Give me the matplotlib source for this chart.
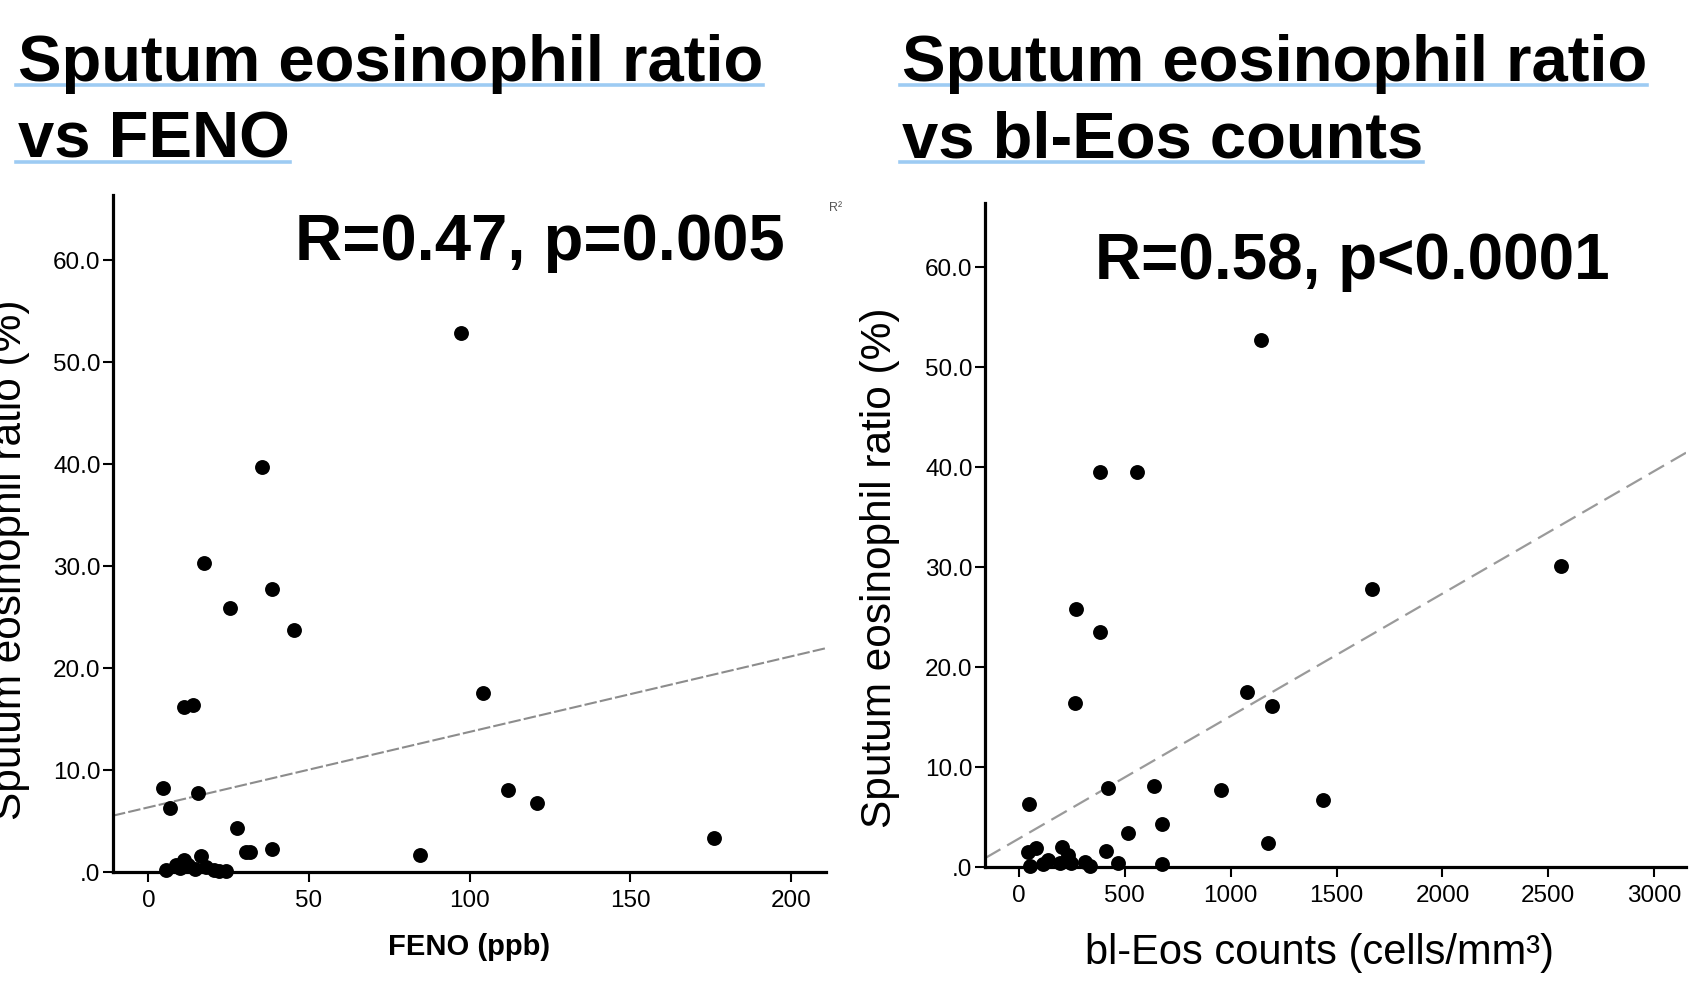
import matplotlib
matplotlib.use("Agg")
import matplotlib.pyplot as plt
from matplotlib.lines import Line2D

plt.rcParams['font.family'] = ['Liberation Sans', 'DejaVu Sans']

# Dados
feno = [97.2, 35.4, 17.4, 38.5, 25.5, 45.3, 104.1, 11.2, 14.0, 4.6, 15.6, 6.6,
        112.1, 121.1, 176.1, 27.6, 30.5, 31.8, 38.5, 84.5, 16.5, 11.2, 8.7, 5.6,
        12.4, 18.0, 20.6, 24.3, 22.0, 10.0, 14.5]
sputum_feno = [52.9, 39.7, 30.3, 27.8, 25.9, 23.7, 17.6, 16.2, 16.4, 8.2, 7.7, 6.3,
               8.0, 6.8, 3.3, 4.3, 2.0, 2.0, 2.3, 1.7, 1.6, 1.2, 0.7, 0.2,
               0.7, 0.5, 0.2, 0.1, 0.1, 0.4, 0.3]

bleos = [1145, 385, 556, 271, 385, 1668, 2562, 1079, 266, 1193, 48, 423, 637,
         955, 1435, 675, 513, 1174, 409, 43, 81, 204, 233, 138, 52, 195, 314,
         338, 470, 675, 114, 247]
sputum_bleos = [52.7, 39.5, 39.5, 25.8, 23.5, 27.8, 30.1, 17.5, 16.4, 16.1, 6.3, 7.9,
                8.1, 7.7, 6.7, 4.3, 3.4, 2.4, 1.6, 1.5, 1.9, 2.0, 1.2, 0.7, 0.1,
                0.4, 0.5, 0.1, 0.4, 0.3, 0.3, 0.4]

# Retas de ajuste (intercepto, inclinação)
fit_feno = (6.34, 0.074)
fit_bleos = (2.84, 0.01225)

y_ticks = [0, 10, 20, 30, 40, 50, 60]
y_tick_labels = [".0", "10.0", "20.0", "30.0", "40.0", "50.0", "60.0"]
x_ticks_feno = [0, 50, 100, 150, 200]
x_ticks_bleos = [0, 500, 1000, 1500, 2000, 2500, 3000]

titles_left = ["Sputum eosinophil ratio", "vs FENO"]
titles_right = ["Sputum eosinophil ratio", "vs bl-Eos counts"]

W, H = 1697, 988
fig = plt.figure(figsize=(W / 100, H / 100), dpi=100)

ax1 = fig.add_axes([113 / W, 1 - 872 / H, (826 - 113) / W, (872 - 195) / H])
ax2 = fig.add_axes([985 / W, 1 - 867 / H, (1686 - 985) / W, (867 - 203) / H])


def style_axis(ax, xlim, xticks):
    ax.set_xlim(*xlim)
    ax.set_ylim(0, 66.4)
    for side in ["top", "right"]:
        ax.spines[side].set_visible(False)
    for side in ["left", "bottom"]:
        ax.spines[side].set_linewidth(2.3)
        ax.spines[side].set_zorder(2)
    ax.set_yticks(y_ticks)
    ax.set_yticklabels(y_tick_labels)
    ax.set_xticks(xticks)
    ax.tick_params(axis="both", direction="out", length=7, width=1.5, labelsize=17.5)
    ax.tick_params(axis="y", pad=2)
    ax.tick_params(axis="x", pad=6)


# Gráfico da esquerda: FENO
style_axis(ax1, (-11, 211), x_ticks_feno)
ax1.scatter(feno, sputum_feno, s=115, color="black", zorder=3, clip_on=False,
            linewidths=0)
ax1.axline((0, fit_feno[0]), slope=fit_feno[1], color="#8c8c8c", lw=1.5,
           dashes=(6, 1.5), zorder=1)
ax1.set_xlabel("FENO (ppb)", fontsize=21, fontweight="bold")
ax1.xaxis.set_label_coords(0.5, -0.09)
ax1.set_ylabel("Sputum eosinophil ratio (%)", fontsize=30.5)
ax1.yaxis.set_label_coords(-0.116, 0.461)
ax1.text(0.255, 0.904, "R=0.47, p=0.005", transform=ax1.transAxes,
         fontsize=47, fontweight="bold", va="baseline")

# Gráfico da direita: eosinófilos no sangue
style_axis(ax2, (-160, 3150), x_ticks_bleos)
ax2.scatter(bleos, sputum_bleos, s=115, color="black", zorder=3, clip_on=False,
            linewidths=0)
ax2.axline((0, fit_bleos[0]), slope=fit_bleos[1], color="#9a9a9a", lw=1.6,
           dashes=(8, 3.5), zorder=1)
ax2.set_xlabel("bl-Eos counts (cells/mm³)", fontsize=30)
ax2.xaxis.set_label_coords(0.477, -0.1)
ax2.set_ylabel("Sputum eosinophil ratio (%)", fontsize=30.5)
ax2.yaxis.set_label_coords(-0.121, 0.45)
ax2.text(0.157, 0.886, "R=0.58, p<0.0001", transform=ax2.transAxes,
         fontsize=46, fontweight="bold", va="baseline")

fig.text(836 / W, 1 - 208 / H, "R²", fontsize=9, color="#555555",
         ha="center", va="center")

# Títulos sublinhados
title_texts = []
for x0, lines in [(18, titles_left), (902, titles_right)]:
    for line, base in zip(lines, [81, 158]):
        t = fig.text(x0 / W, 1 - base / H, line, fontsize=47, fontweight="bold",
                     va="baseline", ha="left")
        title_texts.append((t, base))

fig.canvas.draw()
renderer = fig.canvas.get_renderer()
for t, base in title_texts:
    bb = t.get_window_extent(renderer)
    y = 1 - (base + 4) / H
    fig.add_artist(Line2D([bb.x0 / W - 2 / W, bb.x1 / W], [y, y],
                          transform=fig.transFigure, color="#9dcbf3", lw=2.6,
                          zorder=0))

fig.savefig("out.png", dpi=100)
